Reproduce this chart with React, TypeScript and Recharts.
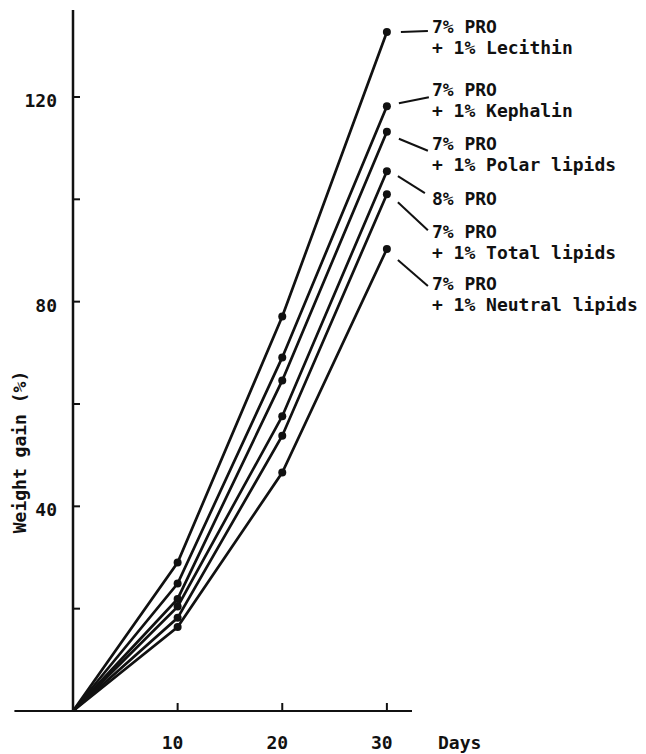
import React from 'react';
import { LineChart, Line, XAxis, YAxis, ReferenceLine } from 'recharts';

const days = [0, 10, 20, 30];
const lecithin = [0, 29.0, 77.1, 132.7];
const kephalin = [0, 24.9, 69.1, 118.2];
const polarLipids = [0, 21.9, 64.6, 113.2];
const pro8 = [0, 20.4, 57.6, 105.5];
const totalLipids = [0, 18.2, 53.8, 101.0];
const neutralLipids = [0, 16.4, 46.6, 90.3];

const xTicks = [10, 20, 30];
const yTicks = [20, 40, 60, 80, 100, 120];
const yLabeledTicks = [40, 80, 120];

const seriesKeys = ['lec', 'kep', 'pol', 'p8', 'tot', 'neu'];
const seriesValues = [lecithin, kephalin, polarLipids, pro8, totalLipids, neutralLipids];
const seriesLabels: string[][] = [
  ['7% PRO', '+ 1% Lecithin'],
  ['7% PRO', '+ 1% Kephalin'],
  ['7% PRO', '+ 1% Polar lipids'],
  ['8% PRO'],
  ['7% PRO', '+ 1% Total lipids'],
  ['7% PRO', '+ 1% Neutral lipids'],
];

// annotation layout relative to the last point: text first-line centre dy, leader line
const annotationLayout = [
  { textDy: -6, leader: [14, 0, 41, -1] },
  { textDy: -17, leader: [12, -3, 42, -9] },
  { textDy: 12, leader: [12, 7, 41, 19] },
  { textDy: 27, leader: [11, 5, 38, 22] },
  { textDy: 37, leader: [11, 8, 41, 36] },
  { textDy: 35, leader: [11, 11, 41, 37] },
];

const data = days.map((d, i) => {
  const row: any = { day: d };
  seriesKeys.forEach((k, s) => {
    row[k] = seriesValues[s][i];
  });
  return row;
});

const FONT = '"DejaVu Sans Mono", "Liberation Mono", monospace';
const INK = '#111';
const WEIGHT = 'bold';

const YTick = (props: any) => {
  const { x, y, payload } = props;
  const show = yLabeledTicks.includes(payload.value);
  return (
    <g>
      <line x1={x} y1={y} x2={x + 7} y2={y} stroke={INK} strokeWidth={2} />
      {show && (
        <text x={x - 16} y={y + 10} textAnchor="end" fontFamily={FONT} fontSize={18} fontWeight={WEIGHT} fill={INK}>
          {payload.value}
        </text>
      )}
    </g>
  );
};

const XTick = (props: any) => {
  const { x, y, payload } = props;
  return (
    <g>
      <line x1={x} y1={y} x2={x} y2={y - 8} stroke={INK} strokeWidth={2} />
      <text x={x - 5} y={y + 38} textAnchor="middle" fontFamily={FONT} fontSize={18} fontWeight={WEIGHT} fill={INK}>
        {payload.value}
      </text>
    </g>
  );
};

const YTitle = (props: any) => {
  const vb = props.viewBox || { x: 13, y: 10, width: 60, height: 701 };
  const cx = vb.x + 13;
  const cy = vb.y + 442;
  return (
    <text
      x={cx}
      y={cy}
      transform={`rotate(-90 ${cx} ${cy})`}
      textAnchor="middle"
      fontFamily={FONT}
      fontSize={18}
      fontWeight={WEIGHT}
      fill={INK}
    >
      Weight gain (%)
    </text>
  );
};

const XTitle = (props: any) => {
  const vb = props.viewBox || { x: 73, y: 711, width: 339, height: 30 };
  return (
    <text x={vb.x + vb.width + 26} y={vb.y + 38} textAnchor="start" fontFamily={FONT} fontSize={18} fontWeight={WEIGHT} fill={INK}>
      Days
    </text>
  );
};

const makeDot = (s: number) => (props: any) => {
  const { cx, cy, index } = props;
  if (index === 0 || cx == null || cy == null) return <g key={`d-${s}-${index}`} />;
  return <circle key={`d-${s}-${index}`} cx={cx} cy={cy} r={4} fill={INK} />;
};

const makeLabel = (s: number) => (props: any) => {
  const { x, y, index } = props;
  if (index !== days.length - 1 || x == null || y == null) return <g key={`l-${s}-${index}`} />;
  const lay = annotationLayout[s];
  const lines = seriesLabels[s];
  const [a, b, c, d] = lay.leader;
  return (
    <g key={`l-${s}-${index}`}>
      <line x1={x + a} y1={y + b} x2={x + c} y2={y + d} stroke={INK} strokeWidth={2} />
      {lines.map((t, i) => (
        <text
          key={i}
          x={x + 45}
          y={y + lay.textDy + 6.5 + i * 21}
          textAnchor="start"
          fontFamily={FONT}
          fontSize={18}
          fontWeight={WEIGHT}
          fill={INK}
          style={{ whiteSpace: 'pre' }}
        >
          {t}
        </text>
      ))}
    </g>
  );
};

export default function App() {
  return (
    <div style={{ position: 'absolute', left: 0, top: 0, width: 646, height: 754, background: '#fff' }}>
      <LineChart
        width={646}
        height={754}
        data={data}
        margin={{ top: 10, right: 234, bottom: 13, left: 13 }}
      >
        <XAxis
          dataKey="day"
          type="number"
          domain={[0, 32.4]}
          ticks={xTicks}
          axisLine={false}
          tickLine={false}
          tickSize={0}
          tickMargin={0}
          height={30}
          tick={<XTick />}
          label={<XTitle />}
        />
        <YAxis
          type="number"
          domain={[0, 137]}
          ticks={yTicks}
          width={60}
          axisLine={{ stroke: INK, strokeWidth: 2.5 }}
          tickLine={false}
          tickSize={0}
          tickMargin={0}
          tick={<YTick />}
          label={<YTitle />}
        />
        <ReferenceLine
          segment={[
            { x: -5.6, y: 0 },
            { x: 32.4, y: 0 },
          ]}
          ifOverflow="visible"
          stroke={INK}
          strokeWidth={2}
        />
        {seriesKeys.map((k, s) => (
          <Line
            key={k}
            dataKey={k}
            type="linear"
            stroke={INK}
            strokeWidth={2.7}
            dot={makeDot(s)}
            activeDot={false}
            label={makeLabel(s)}
            isAnimationActive={false}
          />
        ))}
      </LineChart>
    </div>
  );
}
